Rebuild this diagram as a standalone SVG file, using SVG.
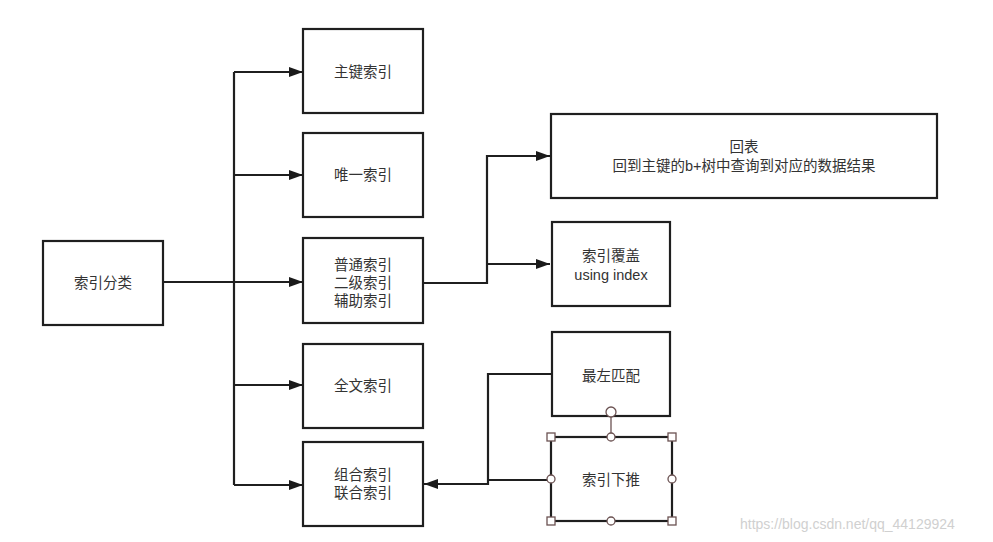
<svg xmlns="http://www.w3.org/2000/svg" width="993" height="542" viewBox="0 0 993 542">
<defs>
<marker id="arr" viewBox="0 0 14 10" refX="14" refY="5" markerWidth="14" markerHeight="10" markerUnits="userSpaceOnUse" orient="auto">
<path d="M0,0 L14,5 L0,10 Z" fill="#1a1a1a"/>
</marker>
<style>
.box{fill:#fff;stroke:#1f1f1f;stroke-width:2.2}
.t{font-family:"Liberation Sans","Noto Sans CJK SC",sans-serif;font-size:14.5px;fill:#333;text-anchor:middle}
.c{fill:none;stroke:#1f1f1f;stroke-width:2.2}
.h{fill:#fff;stroke:#6b5252;stroke-width:1.3}
.wm{font-family:"Liberation Sans",Arial,sans-serif;font-size:14px;fill:#d0d0d0}
</style>
</defs>
<rect width="993" height="542" fill="#fff"/>
<g id="connectors">
<path class="c" d="M163,282 H234"/>
<path class="c" d="M234,72 V485"/>
<path class="c" d="M234,72 H303" marker-end="url(#arr)"/>
<path class="c" d="M234,175 H303" marker-end="url(#arr)"/>
<path class="c" d="M234,282 H303" marker-end="url(#arr)"/>
<path class="c" d="M234,385 H303" marker-end="url(#arr)"/>
<path class="c" d="M234,485 H303" marker-end="url(#arr)"/>
<path class="c" d="M423,283 H487 V156 H550" marker-end="url(#arr)"/>
<path class="c" d="M487,264 H550" marker-end="url(#arr)"/>
<path class="c" d="M552,374 H488 V484 H424" marker-end="url(#arr)"/>
<path class="c" d="M552,480 H488"/>
</g>
<g id="n-root"><rect class="box" x="43" y="241" width="120" height="84"/><text class="t" x="103" y="288">索引分类</text></g>
<g id="n-pk"><rect class="box" x="303" y="29" width="120" height="84"/><text class="t" x="363" y="77">主键索引</text></g>
<g id="n-unique"><rect class="box" x="303" y="133" width="120" height="84"/><text class="t" x="363" y="180">唯一索引</text></g>
<g id="n-normal"><rect class="box" x="303" y="238" width="120" height="85"/><text class="t" x="363" y="270">普通索引</text><text class="t" x="363" y="288">二级索引</text><text class="t" x="363" y="306">辅助索引</text></g>
<g id="n-fulltext"><rect class="box" x="303" y="344" width="120" height="84"/><text class="t" x="363" y="391">全文索引</text></g>
<g id="n-combo"><rect class="box" x="303" y="442" width="120" height="84"/><text class="t" x="363" y="480">组合索引</text><text class="t" x="363" y="498">联合索引</text></g>
<g id="n-huibiao"><rect class="box" x="551" y="114" width="386" height="84"/><text class="t" x="744" y="152">回表</text><text class="t" x="744" y="171">回到主键的b+树中查询到对应的数据结果</text></g>
<g id="n-cover"><rect class="box" x="552" y="222" width="118" height="84"/><text class="t" x="611" y="261">索引覆盖</text><text class="t" x="611" y="280">using index</text></g>
<g id="n-leftmost"><rect class="box" x="552" y="332" width="118" height="84"/><text class="t" x="611" y="381">最左匹配</text></g>
<g id="n-icp"><rect class="box" x="551" y="437" width="121" height="84"/><text class="t" x="611" y="485">索引下推</text>
<line x1="611" y1="416" x2="611" y2="437" stroke="#6b5252" stroke-width="1.3"/>
<circle class="h" cx="611" cy="412" r="5"/>
<rect class="h" x="547" y="433" width="8" height="8"/><rect class="h" x="668" y="433" width="8" height="8"/>
<rect class="h" x="547" y="517" width="8" height="8"/><rect class="h" x="668" y="517" width="8" height="8"/>
<circle class="h" cx="611" cy="437" r="4"/><circle class="h" cx="611" cy="521" r="4"/>
<circle class="h" cx="551" cy="479" r="4"/><circle class="h" cx="672" cy="479" r="4"/>
</g>
<text class="wm" x="740" y="529">https://blog.csdn.net/qq_44129924</text>
</svg>
